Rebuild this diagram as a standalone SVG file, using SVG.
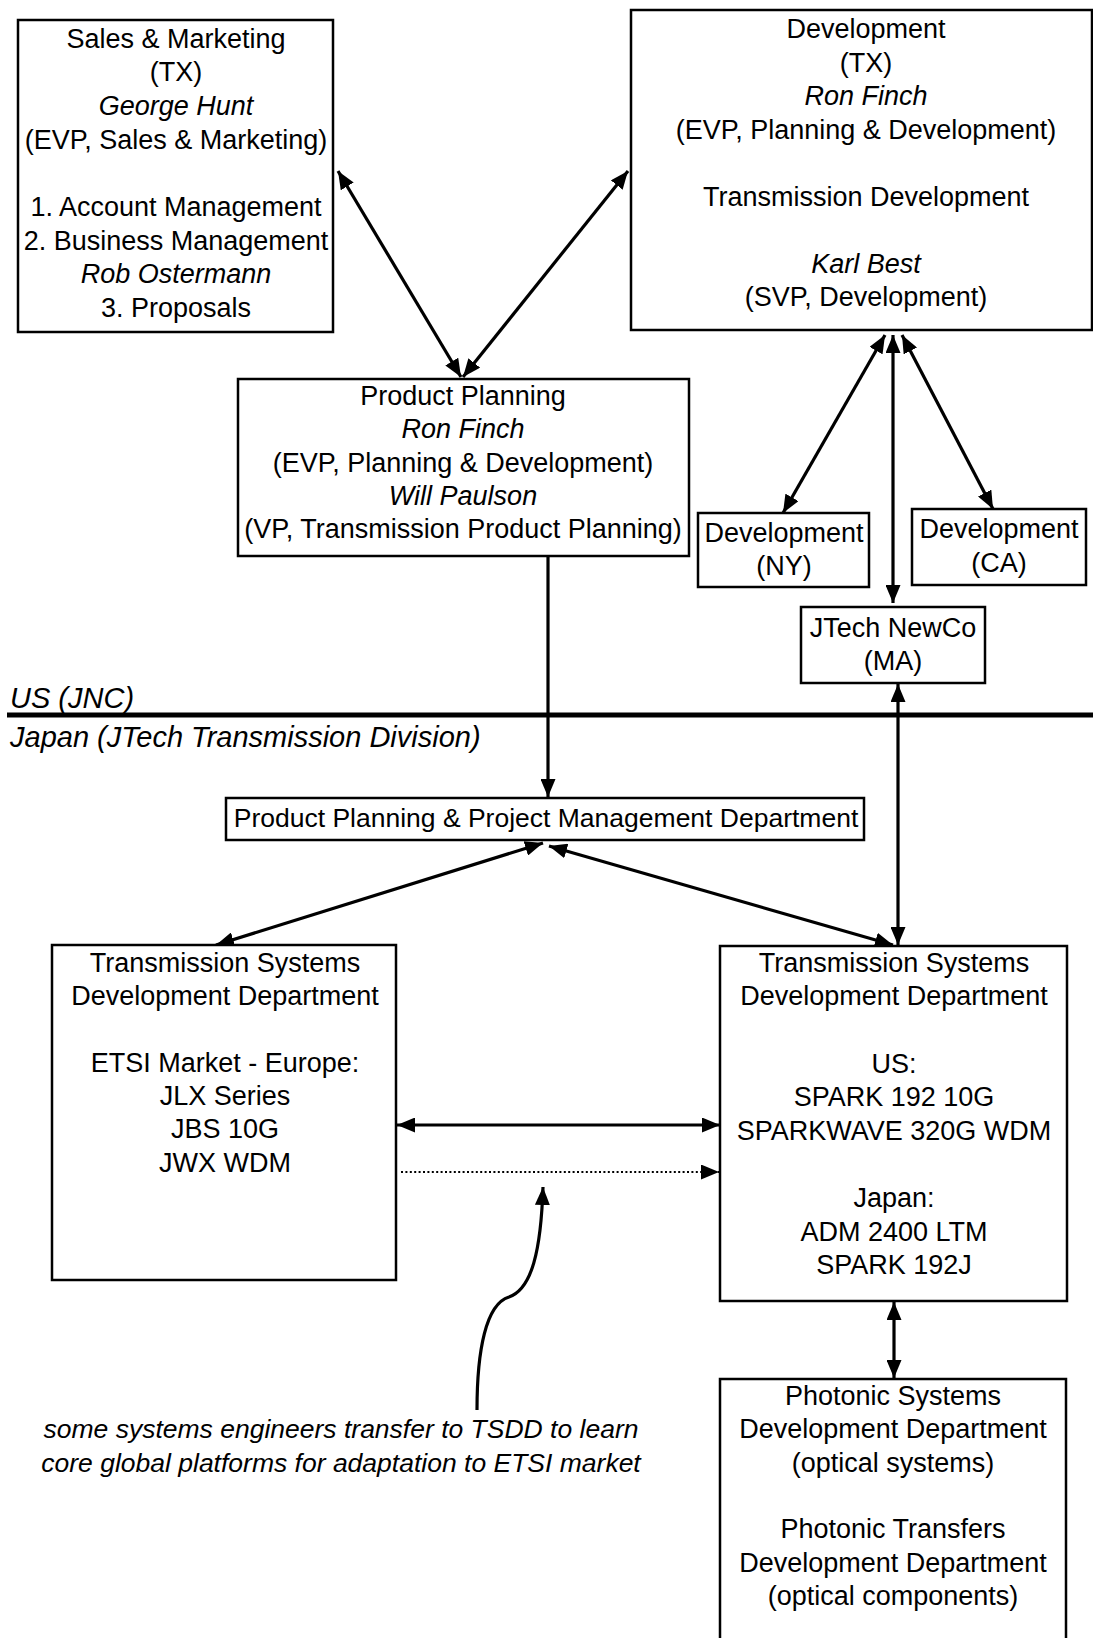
<svg xmlns="http://www.w3.org/2000/svg" width="1093" height="1638" viewBox="0 0 1093 1638">
  <defs>
    <style>
      .box { fill: #fff; stroke: #000; stroke-width: 2.5; }
      .t { font-family: "Liberation Sans", Arial, Helvetica, sans-serif; font-size: 27px; text-anchor: middle; fill: #000; }
      .s { font-size: 26.5px; }
      .i { font-style: italic; }
      .lbl { font-family: "Liberation Sans", Arial, Helvetica, sans-serif; font-size: 29px; font-style: italic; fill: #000; }
      .conn { stroke: #000; stroke-width: 3.2; fill: none; }
      .dbl { marker-start: url(#ah); marker-end: url(#ah); }
      .one { marker-end: url(#ah); }
      .dot { stroke: #000; stroke-width: 2.2; stroke-dasharray: 2 2.4; fill: none; marker-end: url(#ah); }
    </style>
    <marker id="ah" viewBox="0 0 18 15" refX="18" refY="7.5" markerWidth="18" markerHeight="15" markerUnits="userSpaceOnUse" orient="auto-start-reverse">
      <path d="M0,0 L18,7.5 L0,15 z" fill="#000"/>
    </marker>
  </defs>
  <rect width="1093" height="1638" fill="#fff"/>

  <!-- US / Japan divider -->
  <g id="divider">
    <line x1="7" y1="715" x2="1093" y2="715" stroke="#000" stroke-width="5"/>
    <text class="lbl" x="10" y="708">US (JNC)</text>
    <text class="lbl" x="10" y="747">Japan (JTech Transmission Division)</text>
  </g>

  <!-- connectors -->
  <g id="connectors">
    <line class="conn dbl" x1="338" y1="171" x2="461" y2="377"/>
    <line class="conn dbl" x1="628" y1="171" x2="463" y2="377"/>
    <line class="conn dbl" x1="885" y1="335" x2="783" y2="513"/>
    <line class="conn dbl" x1="893" y1="335" x2="893" y2="603"/>
    <line class="conn dbl" x1="902" y1="335" x2="993" y2="509"/>
    <line class="conn one" x1="548" y1="556" x2="548" y2="797"/>
    <line class="conn dbl" x1="898" y1="684" x2="898" y2="945"/>
    <line class="conn dbl" x1="543" y1="843" x2="216" y2="945"/>
    <line class="conn dbl" x1="549" y1="846" x2="893" y2="945"/>
    <line class="conn dbl" x1="397" y1="1125" x2="720" y2="1125"/>
    <line class="dot" x1="401" y1="1172" x2="719" y2="1172"/>
    <line class="conn dbl" x1="894" y1="1302" x2="894" y2="1378"/>
    <path class="conn one" d="M477,1410 C477,1350 486,1304 509,1297 C532,1289 541,1250 543,1187"/>
  </g>

  <g id="sales-marketing">
    <rect class="box" x="18" y="20" width="315" height="312"/>
    <text class="t" x="176" y="47.5">Sales &amp; Marketing</text>
    <text class="t" x="176" y="81.2">(TX)</text>
    <text class="t i" x="176" y="114.9">George Hunt</text>
    <text class="t" x="176" y="148.6">(EVP, Sales &amp; Marketing)</text>
    <text class="t" x="176" y="216">1. Account Management</text>
    <text class="t" x="176" y="249.7">2. Business Management</text>
    <text class="t i" x="176" y="283.4">Rob Ostermann</text>
    <text class="t" x="176" y="317.1">3. Proposals</text>
  </g>

  <g id="development-tx">
    <rect class="box" x="631" y="10" width="461" height="320"/>
    <text class="t" x="866" y="38">Development</text>
    <text class="t" x="866" y="71.5">(TX)</text>
    <text class="t i" x="866" y="105">Ron Finch</text>
    <text class="t" x="866" y="138.5">(EVP, Planning &amp; Development)</text>
    <text class="t" x="866" y="205.5">Transmission Development</text>
    <text class="t i" x="866" y="272.5">Karl Best</text>
    <text class="t" x="866" y="306">(SVP, Development)</text>
  </g>

  <g id="product-planning">
    <rect class="box" x="238" y="379" width="451" height="177"/>
    <text class="t" x="463" y="405">Product Planning</text>
    <text class="t i" x="463" y="438.3">Ron Finch</text>
    <text class="t" x="463" y="471.6">(EVP, Planning &amp; Development)</text>
    <text class="t i" x="463" y="505">Will Paulson</text>
    <text class="t" x="463" y="538.3">(VP, Transmission Product Planning)</text>
  </g>

  <g id="development-ny">
    <rect class="box" x="698" y="513" width="171" height="74"/>
    <text class="t" x="784" y="541.7">Development</text>
    <text class="t" x="784" y="575">(NY)</text>
  </g>

  <g id="development-ca">
    <rect class="box" x="912" y="509" width="174" height="76"/>
    <text class="t" x="999" y="538.3">Development</text>
    <text class="t" x="999" y="571.6">(CA)</text>
  </g>

  <g id="jtech-newco">
    <rect class="box" x="801" y="607" width="184" height="76"/>
    <text class="t" x="893" y="637">JTech NewCo</text>
    <text class="t" x="893" y="670">(MA)</text>
  </g>

  <g id="pppm-department">
    <rect class="box" x="226" y="798" width="638" height="42"/>
    <text class="t s" x="546" y="827">Product Planning &amp; Project Management Department</text>
  </g>

  <g id="tsdd-etsi">
    <rect class="box" x="52" y="945" width="344" height="335"/>
    <text class="t" x="225" y="971.7">Transmission Systems</text>
    <text class="t" x="225" y="1005.1">Development Department</text>
    <text class="t" x="225" y="1071.7">ETSI Market - Europe:</text>
    <text class="t" x="225" y="1105">JLX Series</text>
    <text class="t" x="225" y="1138.4">JBS 10G</text>
    <text class="t" x="225" y="1171.7">JWX WDM</text>
  </g>

  <g id="tsdd-global">
    <rect class="box" x="720" y="946" width="347" height="355"/>
    <text class="t" x="894" y="971.7">Transmission Systems</text>
    <text class="t" x="894" y="1005.3">Development Department</text>
    <text class="t" x="894" y="1072.5">US:</text>
    <text class="t" x="894" y="1106.1">SPARK 192 10G</text>
    <text class="t" x="894" y="1139.7">SPARKWAVE 320G WDM</text>
    <text class="t" x="894" y="1206.9">Japan:</text>
    <text class="t" x="894" y="1240.5">ADM 2400 LTM</text>
    <text class="t" x="894" y="1274.1">SPARK 192J</text>
  </g>

  <g id="photonic">
    <rect class="box" x="720" y="1379" width="346" height="275"/>
    <text class="t" x="893" y="1405">Photonic Systems</text>
    <text class="t" x="893" y="1438.3">Development Department</text>
    <text class="t" x="893" y="1471.6">(optical systems)</text>
    <text class="t" x="893" y="1538.3">Photonic Transfers</text>
    <text class="t" x="893" y="1571.6">Development Department</text>
    <text class="t" x="893" y="1605">(optical components)</text>
  </g>

  <g id="transfer-note">
    <text class="t s i" x="341" y="1438">some systems engineers transfer to TSDD to learn</text>
    <text class="t s i" x="341" y="1471.6">core global platforms for adaptation to ETSI market</text>
  </g>
</svg>
